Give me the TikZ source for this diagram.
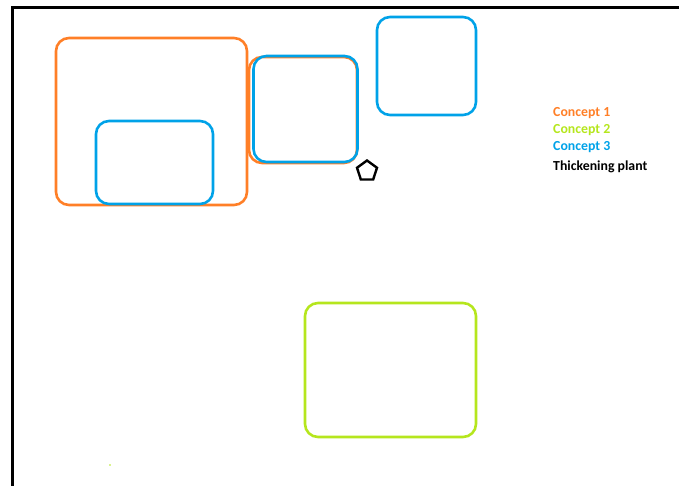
\documentclass[tikz,border=0pt]{standalone}
\usepackage{fontspec}
\setmainfont{Carlito}
\usetikzlibrary{shapes.geometric}
\definecolor{cone}{HTML}{FF7F27}
\definecolor{ctwo}{HTML}{B5E61D}
\definecolor{cthree}{HTML}{00A2E8}
\begin{document}
\begin{tikzpicture}[
    x=1pt, y=-1pt,
    area/.style={draw, line width=2.6pt, rectangle, rounded corners=13pt, inner sep=0pt},
    plant/.style={draw, line width=2.4pt, regular polygon, regular polygon sides=5, minimum size=21pt, inner sep=0pt},
    legend/.style={anchor=west, font=\bfseries\fontsize{13.8}{15}\selectfont, inner sep=0pt}
]
\useasboundingbox (0,0) rectangle (679,486);

% Frame
\draw[line width=3pt] (12,486) -- (12,8) -- (679,8);

% Concept 1
\node[area, cone, minimum width=191pt, minimum height=167pt] (c1a) at (151.5,121.5) {};
\node[area, cone, minimum width=108pt, minimum height=106pt] (c1b) at (303,110) {};

% Concept 3
\node[area, cthree, minimum width=117pt, minimum height=83pt] (c3a) at (154.5,162.5) {};
\node[area, cthree, minimum width=104pt, minimum height=106pt] (c3b) at (305.5,109) {};
\node[area, cthree, minimum width=99pt, minimum height=98pt] (c3c) at (426.5,66) {};

% Concept 2
\node[area, ctwo, minimum width=171pt, minimum height=134pt] (c2a) at (390.5,370) {};
\fill[ctwo] (110,465) circle (0.8pt);

% Thickening plant
\node[plant] (plant) at (367,171) {};

% Legend
\node[legend, text=cone] (leg1) at (553,113) {Concept 1};
\node[legend, text=ctwo] (leg2) at (553,130) {Concept 2};
\node[legend, text=cthree] (leg3) at (553,147) {Concept 3};
\node[legend, text=black] (leg4) at (553,167) {Thickening plant};
\end{tikzpicture}
\end{document}
